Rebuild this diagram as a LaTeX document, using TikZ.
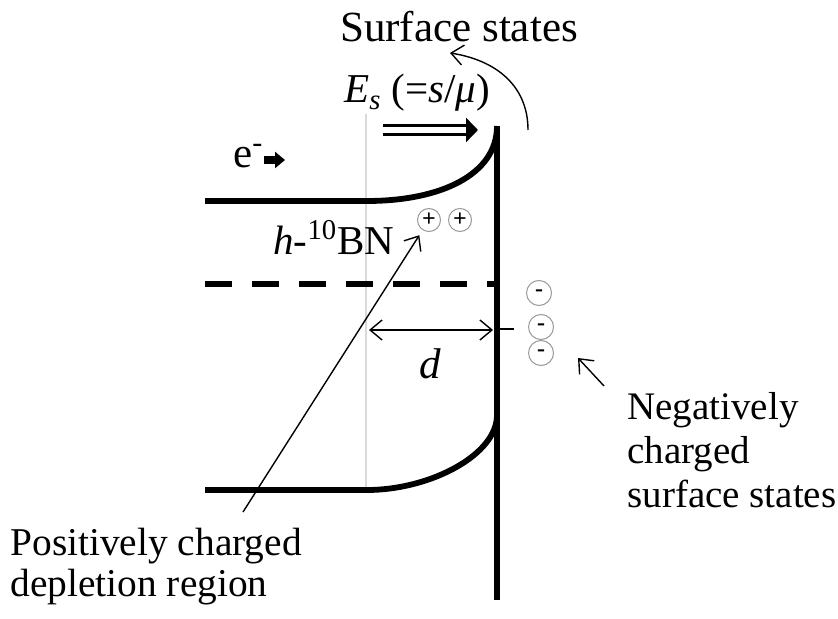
\documentclass[tikz,border=0pt]{standalone}
\usepackage{fontspec}
\setmainfont{Liberation Serif}
\usetikzlibrary{arrows.meta, positioning}
\tikzset{
    band/.style={line width=2.9pt},
    surface/.style={line width=3.2pt},
    charge/.style={circle, draw=gray!80, line width=0.5pt, inner sep=0pt},
    txt/.style={font=\fontsize{21.5}{22.5}\selectfont, inner sep=0pt},
    arr/.style={-{Straight Barb[length=6pt,width=10pt]}, line width=0.7pt}
}

\begin{document}
\begin{tikzpicture}[x=0.5pt, y=-0.5pt,
  small/.style={txt, font=\fontsize{20.5}{22}\selectfont},
  plus/.style={charge, minimum size=11.5pt, font=\fontsize{12}{12}\selectfont\bfseries},
  minus/.style={charge, minimum size=12.5pt, font=\fontsize{12}{12}\selectfont\bfseries},
  blockarr/.style={line width=4pt, -{Triangle[length=5pt,width=8pt]}},
  hollowarr/.style={double, line width=1.8pt, double distance=2.6pt, -{Triangle[length=6pt,width=12pt]}}]
  \useasboundingbox (0,0) rectangle (838,619);
  % band edges
  \draw[gray!30, line width=0.7pt] (366,114) -- (366,490);
  \draw[band] (205,201) -- (367,201) .. controls (440,201) and (497,175) .. (497,126);
  \draw[band] (205,490) -- (367,490) .. controls (430,490) and (497,455) .. (497,415);
  \draw[band, dash pattern=on 13.5pt off 10pt] (205,284) -- (497,284);
  \draw[surface] (497,126) -- (497,600);
  \draw[line width=0.8pt] (497,329) -- (514,329);
  % texts
  \node[txt, anchor=base] (surf) at (459,42) {Surface states};
  \node[small, anchor=base west] (field) at (344,103) {\textit{E}\textsubscript{\textit{s}} (=\textit{s}/\textit{μ})};
  \node[txt, anchor=base west] (elec) at (233,168) {e\textsuperscript{-}};
  \node[small, anchor=base west] (hbn) at (273,255) {\textit{h}-\textsuperscript{10}BN};
  \node[txt, anchor=base] (dist) at (430,378) {\textit{d}};
  \node[txt, font=\fontsize{19.5}{22}\selectfont, anchor=base west, align=left] (neg) at (627,507) {Negatively\\charged\\surface states};
  \node[txt, font=\fontsize{19.7}{20.5}\selectfont, anchor=base west, align=left] (pos) at (10,596) {Positively charged\\depletion region};
  % charges
  \node[plus] (plusA) at (429,220) {+};
  \node[plus, right=3.5pt of plusA] (plusB) {+};
  \node[minus] (minA) at (539,293) {-};
  \node[minus] (minB) at (541,327) {-};
  \node[minus] (minC) at (541,353) {-};
  % arrows
  \coordinate (ssTail) at (528,130);
  \coordinate (ssTip) at (450,53);
  \coordinate (esL) at (383,130);
  \coordinate (esR) at (478,130);
  \coordinate (elecTip) at (285,160);
  \coordinate (dL) at (369,330);
  \coordinate (dR) at (493,330);
  \coordinate (posTail) at (243,512);
  \coordinate (negTail) at (604,386);
  \coordinate (negTip) at (578,358);
  \draw[arr] (ssTail) .. controls (528,85) and (495,60) .. (ssTip);
  \draw[hollowarr] (esL) -- (esR);
  \draw[blockarr] (elec.east |- elecTip) -- (elecTip);
  \draw[arr, arrows={Straight Barb[length=6pt,width=10pt]-Straight Barb[length=6pt,width=10pt]}] (dL) -- (dR);
  \draw[arr, shorten >=3pt] (posTail) -- (plusA);
  \draw[arr] (negTail) -- (negTip);
\end{tikzpicture}
\end{document}
